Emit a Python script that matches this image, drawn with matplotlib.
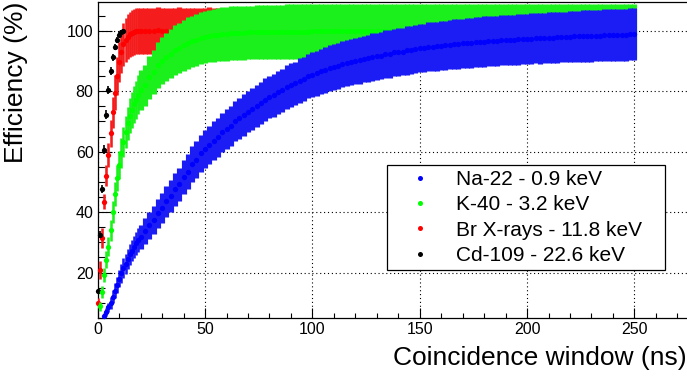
import matplotlib
matplotlib.use('Agg')
import matplotlib.pyplot as plt
import numpy as np
from matplotlib.ticker import MultipleLocator
from matplotlib.lines import Line2D

plt.rcParams['font.family'] = ['Liberation Sans', 'DejaVu Sans']

# coincidence window (ns) for each source
x_black = list(range(0, 13))
x_red = list(range(0, 21)) + list(range(22, 101, 2))
x_green = list(range(1, 21)) + list(range(22, 251, 2))
x_blue = list(range(3, 21)) + list(range(22, 251, 2))

# Cd-109 - 22.6 keV
y_black = [14.0, 32.6, 47.7, 60.6, 72.2, 80.4, 86.8, 91.2, 94.7, 96.9, 98.6, 99.5, 100.0]
e_black = [0.8, 1.2, 1.4, 1.5, 1.5, 1.4, 1.3, 1.2, 1.0, 0.9, 0.8, 0.7, 0.6]

# Br X-rays - 11.8 keV
y_red = [10.0, 21.0, 31.5, 43.5, 52.0, 59.0, 66.0, 73.0, 79.5, 85.0, 89.5,
         93.0, 95.5, 97.0, 98.0, 98.8, 99.3, 99.6, 99.8, 99.9, 100.0,
         100.0, 99.9, 100.0, 100.1, 100.0, 99.9, 100.0, 100.0, 100.1, 100.0,
         100.0, 99.9, 100.0, 100.0, 100.0, 100.1, 100.0, 100.0, 99.9, 100.0,
         100.0, 100.0, 100.1, 100.0, 100.0, 100.0, 99.9, 100.0, 100.0, 100.0,
         100.0, 100.0, 100.0, 100.0, 100.0, 100.0, 100.0, 100.0, 100.0, 100.0]
e_red = [1.7, 3.0, 3.3, 2.5, 3.5, 4.0, 4.6, 5.2, 5.7, 6.2, 6.6,
         6.9, 7.1, 7.3, 7.4, 7.5, 7.6, 7.6, 7.6, 7.6, 7.6] + [7.6] * 40

# K-40 - 3.2 keV
y_green = [8.8, 13.7, 19.2, 24.3, 28.6, 34.0, 40.0, 46.0, 51.3, 55.6,
           59.6, 63.2, 66.5, 69.4, 71.9, 73.8, 75.6, 77.2, 78.8, 80.4,
           82.0, 84.6, 86.4, 88.6, 90.0, 91.3, 92.3, 93.6, 94.3, 95.2,
           95.9, 96.5, 97.0, 97.5, 97.9, 98.2, 98.5, 98.7, 98.9, 99.0,
           99.1, 99.2, 99.2, 99.3, 99.4, 99.4, 99.5, 99.5, 99.5, 99.6,
           99.6, 99.6, 99.6, 99.7, 99.7, 99.7, 99.7, 99.7, 99.7, 99.8,
           99.8, 99.8, 99.8, 99.8, 99.8, 99.8, 99.8, 99.8, 99.8, 99.8,
           99.8, 99.8, 99.9, 99.8, 99.8, 99.8, 99.8, 99.9, 99.8, 99.8,
           99.8, 99.8, 99.8, 99.8, 99.9, 99.8, 99.8, 99.8, 99.8, 99.8,
           99.8, 99.9, 99.8, 99.8, 99.8, 99.8, 99.8, 99.8, 99.8, 99.9,
           99.8, 99.8, 99.8, 99.8, 99.8, 99.8, 99.9, 99.8, 99.8, 99.8,
           99.8, 99.8, 99.8, 99.8, 99.9, 99.8, 99.8, 99.8, 99.8, 99.8,
           99.8, 99.8, 99.9, 99.8, 99.8, 99.8, 99.8, 99.8, 99.8, 99.8,
           99.8, 99.8, 99.8, 99.8, 99.8]
e_green = [1.5, 2.0, 2.4, 2.8, 3.1, 3.4, 3.7, 4.0, 4.3, 4.6,
           4.9, 5.1, 5.3, 5.5, 5.7, 5.9, 6.1, 6.3, 6.4, 6.6,
           6.8, 7.1, 7.3, 7.6, 7.8, 7.9, 8.1, 8.2, 8.3, 8.4,
           8.5, 8.5, 8.6, 8.6, 8.7, 8.7, 8.8, 8.8, 8.8, 8.9] + [8.9] * 10 + [9.0] * 85

# Na-22 - 0.9 keV
y_blue = [5.5, 7.0, 8.5, 10.0, 12.0, 14.0, 16.0, 18.0, 19.8, 21.5,
          23.0, 24.5, 26.0, 27.3, 28.5, 29.7, 30.8, 31.8,
          33.8, 35.6, 37.4, 39.6, 41.4, 43.6, 45.3, 47.5, 49.2, 51.6,
          53.3, 55.8, 57.4, 59.5, 61.0, 62.2, 63.6, 64.7, 66.4, 67.6,
          68.5, 70.1, 71.0, 72.1, 73.2, 74.0, 75.2, 76.0, 77.2, 78.0,
          78.7, 79.7, 80.3, 81.3, 82.0, 82.6, 83.5, 84.0, 84.9, 85.4,
          85.9, 86.6, 87.0, 87.6, 88.0, 88.3, 88.9, 89.2, 89.7, 90.0,
          90.2, 90.7, 90.9, 91.3, 91.5, 91.7, 92.2, 92.4, 92.8, 93.0,
          93.1, 93.5, 93.7, 94.0, 94.2, 94.3, 94.6, 94.7, 94.9, 95.0,
          95.1, 95.3, 95.5, 95.6, 95.8, 95.9, 96.0, 96.2, 96.3, 96.4,
          96.5, 96.6, 96.7, 96.8, 96.9, 97.0, 97.0, 97.1, 97.2, 97.3,
          97.4, 97.5, 97.5, 97.6, 97.7, 97.7, 97.8, 97.9, 97.9, 98.0,
          98.1, 98.1, 98.2, 98.2, 98.3, 98.4, 98.4, 98.5, 98.5, 98.6,
          98.6, 98.7, 98.7, 98.8, 98.8]
e_blue = [1.0, 1.3, 1.6, 1.9, 2.2, 2.5, 2.7, 2.9, 3.1, 3.2,
          3.3, 3.4, 3.5, 3.6, 3.7, 3.8, 3.9, 4.0,
          4.3, 4.5, 4.6, 4.8, 5.0, 5.1, 5.3, 5.4, 5.5, 5.7,
          5.8, 5.9, 6.0, 6.1, 6.3, 6.3, 6.4, 6.5, 6.5, 6.6,
          6.6, 6.7, 6.7, 6.8, 6.8, 6.9, 6.9, 7.0, 7.0, 7.0,
          7.1, 7.1, 7.1, 7.2, 7.2, 7.2, 7.3, 7.3, 7.3, 7.4,
          7.4, 7.4, 7.5, 7.5, 7.5, 7.6, 7.6, 7.6, 7.7, 7.7,
          7.7, 7.7, 7.8, 7.8, 7.8, 7.8, 7.9, 7.9, 7.9, 7.9,
          7.9, 8.0, 8.0, 8.0, 8.0, 8.0, 8.1, 8.1, 8.1, 8.1,
          8.1, 8.1, 8.2, 8.2, 8.2, 8.2, 8.2, 8.2, 8.2, 8.3,
          8.3, 8.3, 8.3, 8.3, 8.3, 8.3, 8.3, 8.3, 8.3, 8.3,
          8.3, 8.3, 8.4, 8.4, 8.4, 8.4, 8.4, 8.4, 8.4, 8.5,
          8.5, 8.5, 8.5, 8.5, 8.5, 8.5, 8.5, 8.5, 8.5, 8.5,
          8.5, 8.6, 8.6, 8.6, 8.6]

labels = ['Na-22 - 0.9 keV', 'K-40 - 3.2 keV', 'Br X-rays - 11.8 keV', 'Cd-109 - 22.6 keV']
colors = ['#0000ff', '#00ff00', '#ff0000', '#000000']
ecolors = ['#1c1cf4', '#1cf01c', '#f41c1c', '#000000']

fig = plt.figure(figsize=(6.87, 3.79), dpi=100)
ax = fig.add_axes([0.1422, 0.161, 0.8594, 0.8347])
ax.set_xlim(0, 275)
ax.set_ylim(5, 109.6)

px_per_ns = 6.87 * 100 * 0.8594 / 275


def draw(x, y, e, color, ecolor, z):
    eb = ax.errorbar(x, y, yerr=e, fmt='o', color=color, ecolor=ecolor,
                     markersize=3.8, markeredgewidth=0, zorder=z)
    step = np.diff(x, append=x[-1] + (x[-1] - x[-2]))
    # bars as wide as the point spacing so they merge into a band
    eb[2][0].set_linewidth(step * px_per_ns * 72 / 100 * 1.2)
    eb[2][0].set_zorder(z)
    eb[0].set_clip_on(False)


draw(x_red, y_red, e_red, colors[2], ecolors[2], 3)
eb = ax.errorbar(x_black, y_black, yerr=e_black, fmt='o', color='black',
                 markersize=3.8, markeredgewidth=0, elinewidth=1.2, zorder=4)
eb[0].set_clip_on(False)
draw(x_green, y_green, e_green, colors[1], ecolors[1], 5)
draw(x_blue, y_blue, e_blue, colors[0], ecolors[0], 6)

ax.xaxis.set_major_locator(MultipleLocator(50))
ax.xaxis.set_minor_locator(MultipleLocator(10))
ax.yaxis.set_major_locator(MultipleLocator(20))
ax.yaxis.set_minor_locator(MultipleLocator(5))
ax.tick_params(axis='x', which='major', direction='in', length=7, width=0.8,
               labelsize=11.5, pad=3)
ax.tick_params(axis='x', which='minor', direction='in', length=3.6, width=0.8)
ax.tick_params(axis='y', which='major', direction='in', length=10, width=0.8,
               labelsize=11.5, pad=3)
ax.tick_params(axis='y', which='minor', direction='in', length=5, width=0.8)
ax.grid(True, which='major', color='black', linestyle=(0, (1, 2.5)), linewidth=0.8)
ax.set_axisbelow(True)
for s in ax.spines.values():
    s.set_linewidth(0.9)

ax.set_xlabel('Coincidence window (ns)', fontsize=19, loc='right')
ax.xaxis.set_label_coords(0.997, -0.09)
ax.set_ylabel('Efficiency (%)', fontsize=19, loc='top')
ax.yaxis.set_label_coords(-0.118, 1.0)

handles = [Line2D([], [], linestyle='none', marker='o', markersize=3.6,
                  markeredgewidth=0, color=c) for c in colors]
leg = ax.legend(handles, labels, loc='upper left',
                bbox_to_anchor=(0.4895, 0.4837, 0.4715, 0), mode='expand',
                borderaxespad=0, fontsize=15, frameon=True, fancybox=False,
                edgecolor='black', framealpha=1, borderpad=0.25,
                labelspacing=0.3, handlelength=2.67, handletextpad=0.4)
leg.get_frame().set_linewidth(0.9)
leg.set_zorder(10)

fig.savefig('out.png', dpi=100)
